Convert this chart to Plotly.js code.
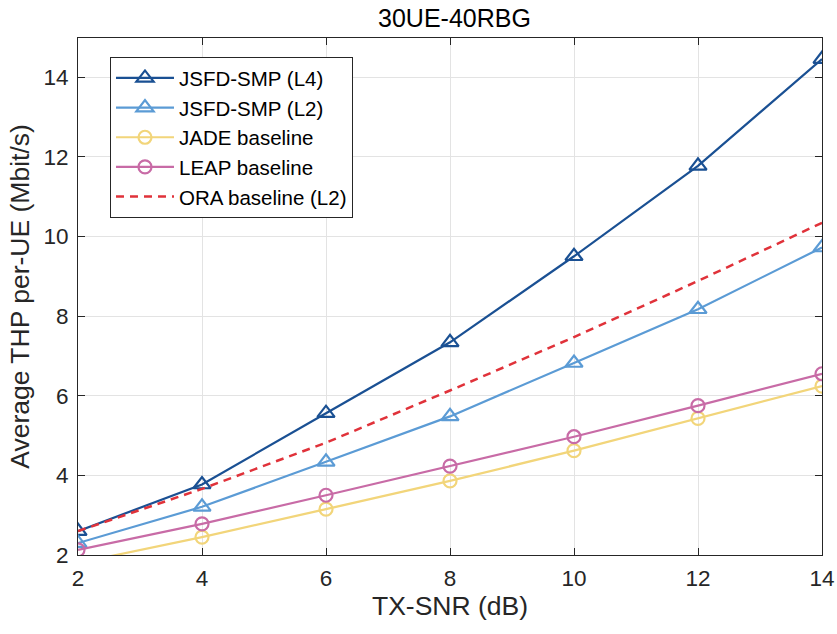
<!DOCTYPE html>
<html>
<head>
<meta charset="utf-8">
<script src="https://cdn.plot.ly/plotly-3.0.1.min.js"></script>
<style>html,body{margin:0;padding:0;background:#fff;}#chart{width:837px;height:634px;}</style>
</head>
<body>
<div id="chart"></div>
<script>
const snr = [2, 4, 6, 8, 10, 12, 14];
const jsfdL4 = [2.6, 3.77, 5.56, 7.34, 9.5, 11.77, 14.45];
const jsfdL2 = [2.3, 3.21, 4.34, 5.48, 6.82, 8.17, 9.72];
const jade = [1.8, 2.45, 3.15, 3.86, 4.62, 5.43, 6.24];
const leap = [2.13, 2.78, 3.5, 4.23, 4.97, 5.75, 6.55];
const ora = [2.6, 3.66, 4.82, 6.13, 7.47, 8.88, 10.34];
const names = ['JSFD-SMP (L4)', 'JSFD-SMP (L2)', 'JADE baseline', 'LEAP baseline', 'ORA baseline (L2)'];

const traces = [
  {x: snr, y: jsfdL4, name: names[0], mode: 'lines+markers',
   line: {color: '#1a5093', width: 2.2},
   marker: {symbol: 'triangle-up-open', size: 15, color: '#1a5093', line: {width: 2.2}}},
  {x: snr, y: jsfdL2, name: names[1], mode: 'lines+markers',
   line: {color: '#5b9bd5', width: 2.2},
   marker: {symbol: 'triangle-up-open', size: 15, color: '#5b9bd5', line: {width: 2.2}}},
  {x: snr, y: jade, name: names[2], mode: 'lines+markers',
   line: {color: '#f2d57a', width: 2.2},
   marker: {symbol: 'circle-open', size: 13, color: '#f2d57a', line: {width: 2.2}}},
  {x: snr, y: leap, name: names[3], mode: 'lines+markers',
   line: {color: '#c86ba6', width: 2.2},
   marker: {symbol: 'circle-open', size: 13, color: '#c86ba6', line: {width: 2.2}}},
  {x: snr, y: ora, name: names[4], mode: 'lines',
   line: {color: '#e0323a', width: 2.5, dash: '8px,6px'}}
];

const font = {family: 'Liberation Sans, Arial, sans-serif', color: '#262626'};
const layout = {
  width: 837, height: 634,
  margin: {l: 78, r: 15, t: 38, b: 79},
  paper_bgcolor: '#fff', plot_bgcolor: '#fff',
  font: Object.assign({size: 16}, font),
  title: {text: '30UE-40RBG', x: 0.543, xanchor: 'center', y: 0.972, yanchor: 'middle',
          font: Object.assign({size: 25}, font, {color: '#000'})},
  xaxis: {range: [2, 14], dtick: 2, tick0: 2, showgrid: true, gridcolor: '#e3e3e3', gridwidth: 1,
          showline: true, linecolor: '#262626', linewidth: 1, mirror: 'ticks',
          ticks: 'inside', ticklen: 7, tickcolor: '#262626', zeroline: false,
          ticklabelstandoff: 3,
          tickfont: Object.assign({size: 22.5}, font),
          title: {text: 'TX-SNR (dB)', standoff: 5, font: Object.assign({size: 26.5}, font)}},
  yaxis: {range: [2, 14.98], dtick: 2, tick0: 2, showgrid: true, gridcolor: '#e3e3e3', gridwidth: 1,
          showline: true, linecolor: '#262626', linewidth: 1, mirror: 'ticks',
          ticks: 'inside', ticklen: 7, tickcolor: '#262626', zeroline: false,
          ticklabelstandoff: 4,
          tickfont: Object.assign({size: 22.5}, font),
          title: {text: 'Average THP per-UE (Mbit/s)', standoff: 6, font: Object.assign({size: 26.5}, font)}},
  showlegend: true,
  legend: {x: 0.043, y: 0.963, xanchor: 'left', yanchor: 'top',
           bgcolor: '#fff', bordercolor: '#262626', borderwidth: 1,
           font: Object.assign({size: 20.5}, font, {color: '#000'}),
           tracegroupgap: 0, itemwidth: 58}
};

Plotly.newPlot('chart', traces, layout, {displayModeBar: false, staticPlot: true});
</script>
</body>
</html>
